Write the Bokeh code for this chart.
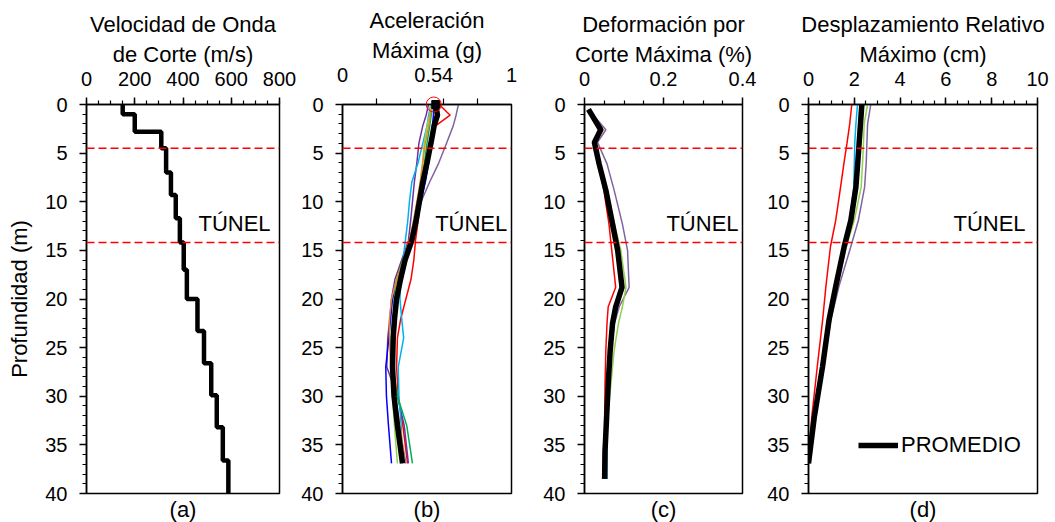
from bokeh.plotting import figure
from bokeh.layouts import row
from bokeh.models import Range1d, FixedTicker, Span, Label, Legend, LegendItem, Title
from bokeh.embed import file_html
from bokeh.resources import INLINE

FONT = "Liberation Sans"

# ---------------- data ----------------
# (a) shear wave velocity profile (layers)
vs_top = [0, 1.0, 2.8, 4.5, 7.0, 9.3, 11.7, 14.2, 17.0, 20.0, 23.3, 26.6, 29.9, 33.2, 36.6]
vs_bottom = [1.0, 2.8, 4.5, 7.0, 9.3, 11.7, 14.2, 17.0, 20.0, 23.3, 26.6, 29.9, 33.2, 36.6, 40.0]
vs_values = [150, 200, 310, 330, 350, 370, 387, 403, 416, 460, 487, 517, 540, 565, 588]

tunnel_top = 4.5
tunnel_bottom = 14.2

series_colors = ["#FF0000", "#8064A2", "#7030A0", "#0000FF", "#00B0F0", "#00B050", "#92D050", "#E48A2C"]

# (b) peak acceleration (g)
acc_depth = [0, 1.1, 2.2, 4, 6, 8, 10, 12, 14, 16, 18, 20, 22, 24, 27, 30, 33, 36.9]
acc_red = [0.572, 0.637, 0.55, 0.518, 0.495, 0.476, 0.462, 0.447, 0.432, 0.422, 0.405, 0.375, 0.345, 0.325, 0.320, 0.33, 0.357, 0.385]
acc_lavender = [0.686, 0.672, 0.655, 0.615, 0.57, 0.515, 0.465, 0.44, 0.415, 0.38, 0.345, 0.32, 0.305, 0.295, 0.29, 0.305, 0.335, 0.375]
acc_purple = [0.509, 0.495, 0.475, 0.452, 0.44, 0.425, 0.414, 0.403, 0.39, 0.35, 0.31, 0.29, 0.28, 0.268, 0.262, 0.325, 0.365, 0.39]
acc_blue = [0.542, 0.538, 0.532, 0.52, 0.51, 0.49, 0.462, 0.44, 0.405, 0.36, 0.33, 0.296, 0.285, 0.274, 0.256, 0.26, 0.272, 0.29]
acc_cyan = [0.523, 0.51, 0.50, 0.475, 0.447, 0.41, 0.396, 0.386, 0.372, 0.358, 0.345, 0.34, 0.35, 0.362, 0.33, 0.334, 0.347, 0.355]
acc_green = [0.533, 0.525, 0.516, 0.50, 0.485, 0.47, 0.452, 0.436, 0.415, 0.355, 0.32, 0.306, 0.305, 0.30, 0.30, 0.325, 0.38, 0.414]
acc_lightgreen = [0.527, 0.515, 0.50, 0.483, 0.474, 0.46, 0.443, 0.42, 0.40, 0.36, 0.325, 0.31, 0.298, 0.288, 0.292, 0.296, 0.307, 0.325]
acc_orange = [0.53, 0.52, 0.51, 0.49, 0.475, 0.46, 0.44, 0.42, 0.395, 0.36, 0.32, 0.29, 0.278, 0.278, 0.285, 0.31, 0.34, 0.37]
acc_mean = [0.552, 0.562, 0.542, 0.523, 0.50, 0.475, 0.455, 0.435, 0.41, 0.37, 0.343, 0.32, 0.308, 0.30, 0.296, 0.305, 0.325, 0.355]
pga_surface = 0.54

# (c) peak shear strain (%)
str_depth = [0.5, 2.6, 3.9, 6.1, 8.8, 12.3, 15.0, 18.8, 20.8, 22.5, 25.3, 28.7, 32.2, 35.6, 38.5]
str_red = [0.010, 0.047, 0.025, 0.036, 0.049, 0.062, 0.069, 0.079, 0.060, 0.057, 0.054, 0.052, 0.051, 0.051, 0.051]
str_lavender = [0.010, 0.054, 0.033, 0.057, 0.075, 0.096, 0.109, 0.113, 0.088, 0.076, 0.066, 0.060, 0.055, 0.050, 0.047]
str_purple = [0.010, 0.045, 0.026, 0.039, 0.056, 0.073, 0.086, 0.097, 0.081, 0.072, 0.065, 0.058, 0.053, 0.048, 0.046]
str_blue = [0.010, 0.044, 0.026, 0.038, 0.055, 0.071, 0.083, 0.094, 0.078, 0.070, 0.064, 0.059, 0.055, 0.051, 0.050]
str_cyan = [0.010, 0.043, 0.026, 0.038, 0.055, 0.072, 0.085, 0.096, 0.080, 0.072, 0.066, 0.062, 0.058, 0.057, 0.057]
str_green = [0.010, 0.042, 0.025, 0.037, 0.054, 0.072, 0.086, 0.093, 0.078, 0.070, 0.064, 0.059, 0.055, 0.052, 0.051]
str_lightgreen = [0.010, 0.042, 0.026, 0.039, 0.057, 0.076, 0.092, 0.105, 0.096, 0.086, 0.075, 0.067, 0.058, 0.054, 0.054]
str_orange = [0.010, 0.043, 0.025, 0.037, 0.054, 0.071, 0.084, 0.095, 0.079, 0.071, 0.065, 0.060, 0.056, 0.052, 0.051]
str_mean = [0.010, 0.041, 0.025, 0.037, 0.054, 0.071, 0.084, 0.095, 0.079, 0.071, 0.065, 0.060, 0.056, 0.052, 0.051]

# (d) peak relative displacement (cm)
dis_depth = [0, 2, 4, 6, 8.5, 11.9, 14.6, 18.7, 22.1, 27.0, 32.2, 36.9]
dis_red = [1.89, 1.80, 1.68, 1.55, 1.40, 1.19, 0.96, 0.76, 0.62, 0.38, 0.14, 0.0]
dis_lavender = [2.72, 2.58, 2.55, 2.52, 2.45, 2.18, 1.85, 1.33, 0.98, 0.64, 0.27, 0.0]
dis_purple = [2.40, 2.32, 2.26, 2.20, 2.10, 1.88, 1.58, 1.21, 0.91, 0.62, 0.25, 0.0]
dis_blue = [2.28, 2.23, 2.18, 2.13, 2.05, 1.84, 1.55, 1.18, 0.89, 0.60, 0.25, 0.0]
dis_cyan = [2.14, 2.07, 2.02, 2.00, 1.98, 1.80, 1.53, 1.17, 0.89, 0.60, 0.25, 0.0]
dis_green = [2.25, 2.21, 2.17, 2.12, 2.04, 1.83, 1.55, 1.18, 0.90, 0.61, 0.25, 0.0]
dis_lightgreen = [2.58, 2.43, 2.40, 2.36, 2.30, 2.00, 1.65, 1.26, 0.95, 0.63, 0.26, 0.0]
dis_orange = [2.30, 2.25, 2.20, 2.14, 2.06, 1.85, 1.56, 1.19, 0.90, 0.61, 0.25, 0.0]
dis_mean = [2.33, 2.27, 2.21, 2.15, 2.07, 1.85, 1.56, 1.19, 0.90, 0.61, 0.25, 0.0]

depth_ticks = list(range(0, 41, 5))
depth_minor = list(range(0, 41))

TITLE_SIZE = "22px"
TICK_SIZE = "20px"


# ---------------- helpers ----------------
def make_fig(xr, xticks, xminor, xlabels, title, caption, bl, fw, br, ylabel=None):
    p = figure(frame_width=fw, frame_height=389, x_range=Range1d(*xr), y_range=Range1d(40, 0),
               x_axis_location="above", output_backend="svg", toolbar_location=None,
               min_border_left=bl, min_border_right=br, min_border_top=104, min_border_bottom=29)
    p.grid.visible = False
    p.outline_line_color = "black"
    p.outline_line_width = 1.5
    p.background_fill_color = "white"
    p.border_fill_color = "white"

    ax = p.xaxis[0]
    ax.ticker = FixedTicker(ticks=xticks, minor_ticks=xminor)
    ax.major_label_overrides = {t: l for t, l in zip(xticks, xlabels)}
    ay = p.yaxis[0]
    ay.ticker = FixedTicker(ticks=depth_ticks, minor_ticks=depth_minor)
    ay.major_label_overrides = {t: str(t) for t in depth_ticks}
    for a in (ax, ay):
        a.axis_line_color = "black"
        a.axis_line_width = 1.5
        a.major_tick_line_color = "black"
        a.major_tick_line_width = 1.5
        a.minor_tick_line_color = "black"
        a.minor_tick_line_width = 1.2
        a.major_tick_out = 7
        a.major_tick_in = 0
        a.minor_tick_out = 4
        a.minor_tick_in = 0
        a.major_label_text_font = FONT
        a.major_label_text_font_size = TICK_SIZE
        a.major_label_text_color = "black"
        a.major_label_standoff = 12
        a.axis_label_text_font = FONT
        a.axis_label_text_font_size = TITLE_SIZE
        a.axis_label_text_font_style = "normal"
        a.axis_label_text_color = "black"
    ax.axis_label = title
    ax.axis_label_standoff = 2
    ax.axis_label_text_line_height = 1.2
    if ylabel:
        ay.axis_label = ylabel
        ay.axis_label_standoff = 10

    p.add_layout(Span(location=tunnel_top, dimension="width", line_color="red",
                      line_dash="8 4", line_width=1.5))
    p.add_layout(Span(location=tunnel_bottom, dimension="width", line_color="red",
                      line_dash="8 4", line_width=1.5))
    p.add_layout(Title(text=caption, align="center", text_font=FONT, text_font_size=TITLE_SIZE,
                       text_font_style="normal", text_color="black", standoff=2), "below")
    return p


def tunnel_label(p, x):
    p.add_layout(Label(x=x, y=(tunnel_top + tunnel_bottom) / 2 + 2.85, text="TÚNEL",
                       text_align="right", text_baseline="middle", text_font=FONT,
                       text_font_size=TITLE_SIZE, text_color="black"))


# ---------------- (a) ----------------
pa = make_fig((0, 800), [0, 200, 400, 600, 800], list(range(0, 801, 50)),
              ["0", "200", "400", "600", "800"], "Velocidad de Onda\nde Corte (m/s)", "(a)",
              86, 193, 19, ylabel="Profundidad (m)")
step_x, step_y = [], []
for t, b, v in zip(vs_top, vs_bottom, vs_values):
    step_x += [v, v]
    step_y += [t, b]
pa.line(step_x, step_y, line_color="black", line_width=4.5)
tunnel_label(pa, 763)

# ---------------- (b) ----------------
pb = make_fig((0, 1), [0, pga_surface, 1], [0.2, 0.4, 0.6, 0.8], ["0", "0.54", "1"],
              "Aceleración\nMáxima (g)", "(b)", 42, 169, 29)
pb.xaxis[0].major_tick_out = 0
pb.xaxis[0].minor_tick_out = 6
pb.xaxis[0].major_label_standoff = 17
for c, s in zip(series_colors, [acc_red, acc_lavender, acc_purple, acc_blue, acc_cyan, acc_green,
                                acc_lightgreen, acc_orange]):
    pb.line(s, acc_depth, line_color=c, line_width=1.5)
pb.line(acc_mean, acc_depth, line_color="black", line_width=5.5)
pb.scatter([acc_mean[0]], [acc_depth[0]], marker="square", size=8, color="black", level="overlay")
pb.scatter([pga_surface], [0], marker="circle", size=15, fill_color=None, line_color="red",
           line_width=1, level="overlay")
tunnel_label(pb, 0.975)

# ---------------- (c) ----------------
pc = make_fig((0, 0.4), [0, 0.2, 0.4], [0.05, 0.1, 0.15, 0.25, 0.3, 0.35], ["0", "0.2", "0.4"],
              "Deformación por\nCorte Máxima (%)", "(c)", 44, 158, 20)
for c, s in zip(series_colors, [str_red, str_lavender, str_purple, str_blue, str_cyan, str_green,
                                str_lightgreen, str_orange]):
    pc.line(s, str_depth, line_color=c, line_width=1.5)
pc.line(str_mean, str_depth, line_color="black", line_width=5.5)
tunnel_label(pc, 0.39)

# ---------------- (d) ----------------
pd_ = make_fig((0, 10), [0, 2, 4, 6, 8, 10], [x / 2 for x in range(0, 21)],
               ["0", "2", "4", "6", "8", "10"], "Desplazamiento Relativo\nMáximo (cm)", "(d)",
               46, 229, 20)
for c, s in zip(series_colors, [dis_red, dis_lavender, dis_purple, dis_blue, dis_cyan, dis_green,
                                dis_lightgreen, dis_orange]):
    pd_.line(s, dis_depth, line_color=c, line_width=1.5)
r_mean = pd_.line(dis_mean, dis_depth, line_color="black", line_width=5.5)
tunnel_label(pd_, 9.48)
leg = Legend(items=[LegendItem(label="PROMEDIO", renderers=[r_mean])], location=(50, 35),
             border_line_color=None, background_fill_alpha=0, label_text_font=FONT,
             label_text_font_size=TITLE_SIZE, label_text_color="black", glyph_width=40,
             glyph_height=20, padding=0, margin=0, label_standoff=3)
pd_.add_layout(leg)

layout = row(pa, pb, pc, pd_, spacing=0)
open("out.html", "w").write(file_html(layout, INLINE))
